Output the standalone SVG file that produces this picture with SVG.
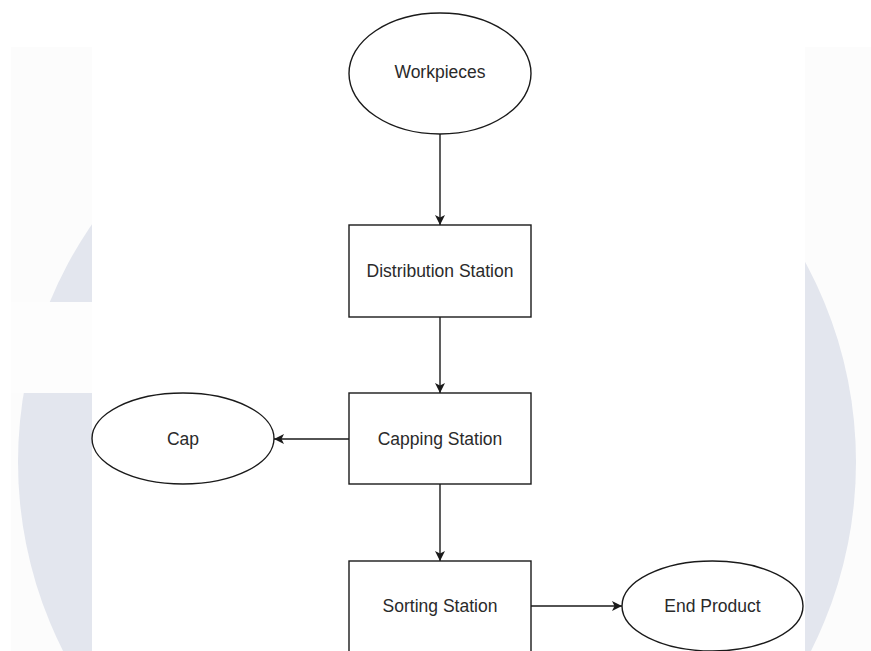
<svg xmlns="http://www.w3.org/2000/svg" width="871" height="651" viewBox="0 0 871 651">
  <defs>
    <style>
      .shape { fill: #ffffff; stroke: #1a1a1a; stroke-width: 1.4; }
      .label { font-family: "Liberation Sans", Arial, sans-serif; font-size: 17.5px; fill: #2a2a2a; text-anchor: middle; dominant-baseline: central; }
      .edge { fill: none; stroke: #1a1a1a; stroke-width: 1.4; }
      .bg { fill: #e3e6ee; }
    </style>
    <marker id="arrow" viewBox="0 0 10 10" refX="10" refY="5" markerWidth="10" markerHeight="10" markerUnits="userSpaceOnUse" orient="auto">
      <path d="M0,0 L10,5 L0,10 L2.5,5 Z" fill="#1a1a1a"/>
    </marker>
    <clipPath id="sides">
      <rect x="11" y="47" width="81" height="604"/>
      <rect x="805" y="47" width="66" height="604"/>
    </clipPath>
  </defs>

  <g id="background">
    <rect x="0" y="0" width="871" height="651" fill="#ffffff"/>
    <rect x="11" y="47" width="81" height="604" fill="#fcfcfc"/>
    <rect x="805" y="47" width="66" height="604" fill="#fcfcfc"/>
    <g clip-path="url(#sides)">
      <circle class="bg" cx="437" cy="462" r="419"/>
      <rect x="11" y="302" width="81" height="91" fill="#fdfdfd"/>
    </g>
  </g>

  <g id="connectors">
    <line class="edge" x1="440" y1="134" x2="440" y2="225" marker-end="url(#arrow)"/>
    <line class="edge" x1="440" y1="317" x2="440" y2="393" marker-end="url(#arrow)"/>
    <line class="edge" x1="440" y1="484" x2="440" y2="561" marker-end="url(#arrow)"/>
    <line class="edge" x1="349" y1="439" x2="274" y2="439" marker-end="url(#arrow)"/>
    <line class="edge" x1="531" y1="606" x2="622" y2="606" marker-end="url(#arrow)"/>
  </g>

  <g id="node-workpieces">
    <ellipse class="shape" cx="440" cy="73.5" rx="91" ry="60.5"/>
    <text class="label" x="440" y="72">Workpieces</text>
  </g>

  <g id="node-distribution">
    <rect class="shape" x="349" y="225" width="182" height="92"/>
    <text class="label" x="440" y="271">Distribution Station</text>
  </g>

  <g id="node-capping">
    <rect class="shape" x="349" y="393" width="182" height="91"/>
    <text class="label" x="440" y="438.5">Capping Station</text>
  </g>

  <g id="node-cap">
    <ellipse class="shape" cx="183" cy="438.5" rx="91" ry="45.5"/>
    <text class="label" x="183" y="438.5">Cap</text>
  </g>

  <g id="node-sorting">
    <rect class="shape" x="349" y="561" width="182" height="92"/>
    <text class="label" x="440" y="606">Sorting Station</text>
  </g>

  <g id="node-endproduct">
    <ellipse class="shape" cx="712.5" cy="606" rx="90.5" ry="45"/>
    <text class="label" x="712.5" y="606">End Product</text>
  </g>
</svg>
